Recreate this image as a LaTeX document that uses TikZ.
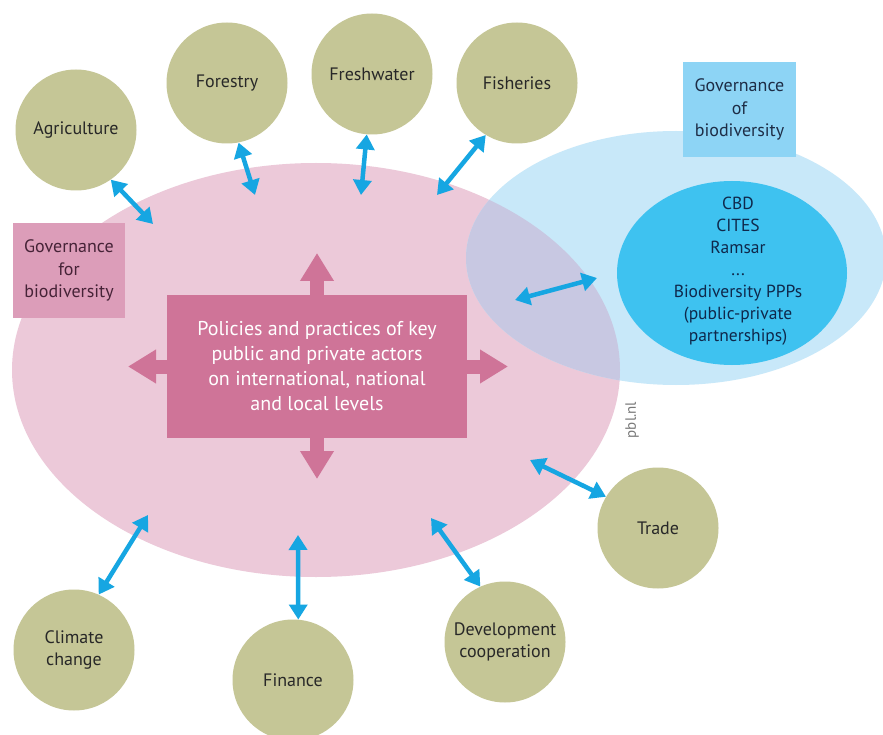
\documentclass[tikz,border=0pt]{standalone}
\usepackage{fontspec}
\setmainfont{PT Sans}
\usetikzlibrary{arrows.meta,shapes.geometric}
\definecolor{greenc}{RGB}{197,198,150}
\definecolor{pinkell}{RGB}{236,201,217}
\definecolor{corepink}{RGB}{207,116,152}
\definecolor{govpink}{RGB}{220,157,185}
\definecolor{blueell}{RGB}{200,232,249}
\definecolor{overlapc}{RGB}{200,200,226}
\definecolor{innerblue}{RGB}{62,194,240}
\definecolor{govblue}{RGB}{141,212,245}
\definecolor{arrowblue}{RGB}{22,166,226}
\definecolor{darktext}{RGB}{40,40,40}
\begin{document}
\begin{tikzpicture}[x=1pt,y=-1pt,
  bigell/.style={ellipse, draw=none, inner sep=0pt},
  topic/.style={circle, fill=greenc, draw=none, minimum size=121pt, inner sep=0pt,
    align=center, text=darktext, font=\fontsize{18}{22}\selectfont},
  govbox/.style={draw=none, inner sep=0pt, align=center, font=\fontsize{18}{22.5}\selectfont},
  bluearrow/.style={draw=arrowblue, line width=4.5pt,
    {Triangle[length=15pt,width=18pt]}-{Triangle[length=15pt,width=18pt]}},
  pinkarrow/.style={draw=corepink, line width=14pt, -{Triangle[length=28pt,width=32pt]}}
]
\clip (0,0) rectangle (883,735);
\fill[white] (0,0) rectangle (883,735);
% big ellipses
\node[bigell, fill=pinkell, minimum width=608pt, minimum height=414pt] (pinkE) at (316,370) {};
\node[bigell, fill=blueell, minimum width=420pt, minimum height=254pt] (blueE) at (676,258) {};
\begin{scope}
  \clip (316,370) ellipse [x radius=304pt, y radius=207pt];
  \fill[overlapc] (676,258) ellipse [x radius=210pt, y radius=127pt];
\end{scope}
% governance boxes
\node[govbox, fill=govblue, minimum width=113pt, minimum height=95pt, text={rgb,255:red,30;green,45;blue,70}] (govof) at (739.5,109.5)
  {Governance\\of\\biodiversity};
\node[govbox, fill=govpink, minimum width=112pt, minimum height=95pt, text={rgb,255:red,70;green,35;blue,55}] (govfor) at (69,270.5)
  {Governance\\for\\biodiversity};
% inner ellipse
\node[bigell, fill=innerblue, minimum width=230pt, minimum height=184pt] (inner) at (732,273) {};
\node[align=center, inner sep=0pt, text={rgb,255:red,15;green,40;blue,75}, font=\fontsize{17.5}{22}\selectfont] (innertext) at (738,271)
  {CBD\\CITES\\Ramsar\\...\\Biodiversity PPPs\\(public-private\\partnerships)};
% central box
\node[fill=corepink, draw=none, minimum width=300pt, minimum height=143pt, inner sep=0pt,
  align=center, text=white, font=\fontsize{20}{25}\selectfont] (core) at (317,366.5)
  {Policies and practices of key\\public and private actors\\on international, national\\and local levels};
\coordinate (upTip) at (317,253);
\coordinate (downTip) at (317,479);
\coordinate (leftTip) at (128,366.5);
\coordinate (rightTip) at (508,366.5);
\draw[pinkarrow] (core.north) -- (upTip);
\draw[pinkarrow] (core.south) -- (downTip);
\draw[pinkarrow] (core.west) -- (leftTip);
\draw[pinkarrow] (core.east) -- (rightTip);
% topics
\node[topic] (agri) at (76,130) {Agriculture};
\node[topic] (forest) at (227,83) {Forestry};
\node[topic] (fresh) at (372,74) {Freshwater};
\node[topic] (fish) at (517,83) {Fisheries};
\node[topic] (trade) at (658,528) {Trade};
\node[topic] (dev) at (505,642) {Development\\cooperation};
\node[topic] (fin) at (293,680) {Finance};
\node[topic] (clim) at (74,650) {Climate\\change};
% arrow ends in the ellipse
\coordinate (eAgri) at (153,224);
\coordinate (eForest) at (255,195);
\coordinate (eFresh) at (361,195);
\coordinate (eFish) at (437,195);
\coordinate (eTrade) at (530,460);
\coordinate (eDev) at (431,518);
\coordinate (eFin) at (298,535);
\coordinate (eClim) at (148,515);
\coordinate (eIn1) at (515,300);
\coordinate (eIn2) at (597,278);
\draw[bluearrow] (agri.-55) -- (eAgri);
\draw[bluearrow] (forest.-79) -- (eForest);
\draw[bluearrow] (fresh.-95) -- (eFresh);
\draw[bluearrow] (fish.-121) -- (eFish);
\draw[bluearrow] (trade.149) -- (eTrade);
\draw[bluearrow] (dev.114) -- (eDev);
\draw[bluearrow] (fin.85) -- (eFin);
\draw[bluearrow] (clim.66) -- (eClim);
\draw[bluearrow] (eIn1) -- (eIn2);
% credit
\node[rotate=90, text={rgb,255:red,120;green,120;blue,120}, font=\fontsize{15}{17}\selectfont, inner sep=0pt] (credit) at (632,420) {pbl.nl};
\end{tikzpicture}
\end{document}
